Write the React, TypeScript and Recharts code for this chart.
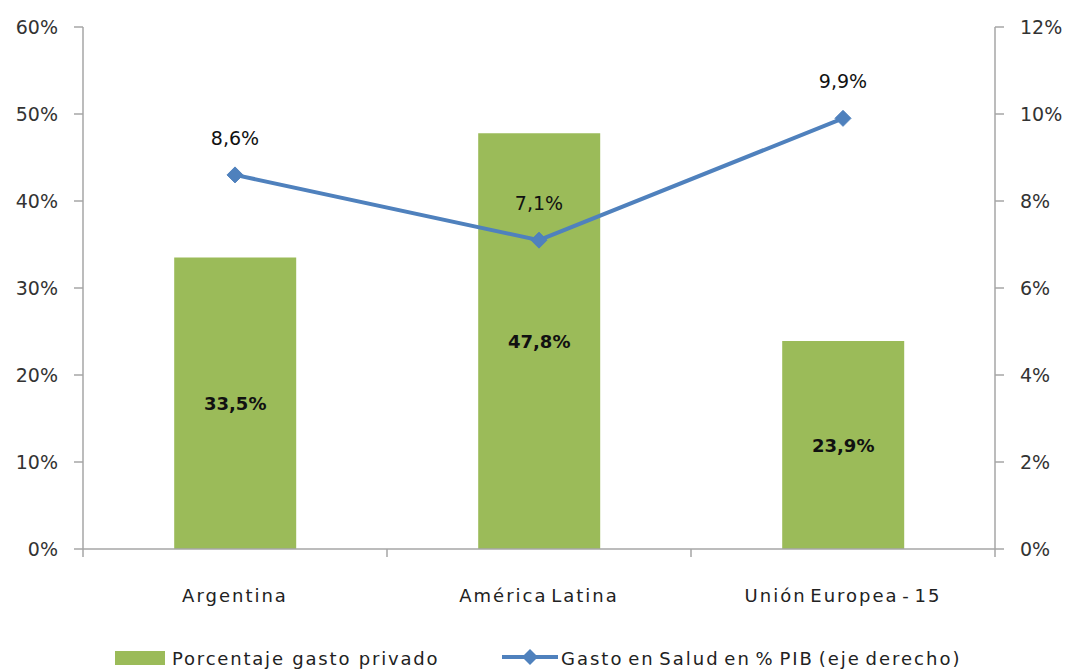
import { ComposedChart, Bar, Line, XAxis, YAxis, LabelList } from "recharts"

// values
const categories = ["Argentina", "América Latina", "Unión Europea - 15"]
const privateShare = [33.5, 47.8, 23.9]
const healthGdp = [8.6, 7.1, 9.9]
const leftTicks = [0, 10, 20, 30, 40, 50, 60]
const rightTicks = [0, 2, 4, 6, 8, 10, 12]

const data = categories.map((name, i) => ({
  name,
  privado: privateShare[i],
  pib: healthGdp[i],
}))

const W = 1069
const H = 671
const LEFT_W = 83
const RIGHT_W = 74
const BAND = (W - LEFT_W - RIGHT_W) / categories.length

const FONT = "'DejaVu Sans', Verdana, sans-serif"
const GREEN = "#9bbb59"
const BLUE = "#4f81bd"
const AXIS = "#a6a6a6"

const pct = (v: number) => v.toFixed(1).replace(".", ",") + "%"

const CategoryTick = (props: any) => {
  const { x, y, payload, index } = props
  return (
    <g>
      <line x1={x - BAND / 2} x2={x - BAND / 2} y1={y - 8} y2={y} stroke={AXIS} strokeWidth={1.5} />
      {index === categories.length - 1 && (
        <line x1={x + BAND / 2} x2={x + BAND / 2} y1={y - 8} y2={y} stroke={AXIS} strokeWidth={1.5} />
      )}
      <text
        x={x}
        y={y + 45}
        textAnchor="middle"
        fontFamily={FONT}
        fontSize={18}
        letterSpacing={2}
        wordSpacing={-4}
        fill="#222"
      >
        {payload.value}
      </text>
    </g>
  )
}

const Diamond = (props: any) => {
  const { cx, cy } = props
  if (cx == null || cy == null) return null
  const r = 8
  return (
    <polygon
      points={`${cx},${cy - r} ${cx + r},${cy} ${cx},${cy + r} ${cx - r},${cy}`}
      fill={BLUE}
      stroke={BLUE}
    />
  )
}

const LineLabel = (props: any) => {
  const { x, y, value } = props
  return (
    <text
      x={x}
      y={y - 37}
      textAnchor="middle"
      dominantBaseline="central"
      fontFamily={FONT}
      fontSize={19}
      fill="#111"
    >
      {pct(value)}
    </text>
  )
}

const BarLabel = (props: any) => {
  const { x, y, width, height, value } = props
  return (
    <text
      x={x + width / 2}
      y={y + height / 2}
      textAnchor="middle"
      dominantBaseline="central"
      fontFamily={FONT}
      fontSize={18}
      fontWeight="bold"
      fill="#111"
    >
      {pct(value)}
    </text>
  )
}

export default function App() {
  const tickStyle = { fontFamily: FONT, fontSize: 19, fill: "#333" }
  return (
    <div style={{ position: "fixed", left: 0, top: 0, width: W, height: H, background: "#fff", overflow: "hidden" }}>
      <ComposedChart
        width={W}
        height={H}
        data={data}
        margin={{ top: 27, right: 0, left: 0, bottom: 62 }}
        barCategoryGap="30%"
      >
        <XAxis
          dataKey="name"
          xAxisId={0}
          height={60}
          tick={<CategoryTick />}
          tickLine={false}
          axisLine={{ stroke: AXIS, strokeWidth: 1.5 }}
          interval={0}
        />
        <YAxis
          yAxisId="left"
          width={LEFT_W}
          domain={[0, 60]}
          ticks={leftTicks}
          tickFormatter={(v: number) => v + "%"}
          tick={tickStyle}
          tickSize={9}
          tickMargin={16}
          tickLine={{ stroke: AXIS, strokeWidth: 1.5 }}
          axisLine={{ stroke: AXIS, strokeWidth: 1.5 }}
        />
        <YAxis
          yAxisId="right"
          orientation="right"
          width={RIGHT_W}
          domain={[0, 12]}
          ticks={rightTicks}
          tickFormatter={(v: number) => v + "%"}
          tick={tickStyle}
          tickSize={9}
          tickMargin={16}
          tickLine={{ stroke: AXIS, strokeWidth: 1.5 }}
          axisLine={{ stroke: AXIS, strokeWidth: 1.5 }}
        />
        <Bar yAxisId="left" dataKey="privado" fill={GREEN} isAnimationActive={false}>
          <LabelList dataKey="privado" content={<BarLabel />} />
        </Bar>
        <Line
          yAxisId="right"
          dataKey="pib"
          stroke={BLUE}
          strokeWidth={4}
          dot={<Diamond />}
          activeDot={false}
          isAnimationActive={false}
        >
          <LabelList dataKey="pib" content={<LineLabel />} />
        </Line>
      </ComposedChart>
      <svg
        width={W}
        height={35}
        style={{ position: "absolute", left: 0, top: 636 }}
        fontFamily={FONT}
        fontSize={18}
      >
        <rect x={115} y={15} width={50} height={14} fill={GREEN} />
        <text x={172} y={29} fill="#222" letterSpacing={1.8}>
          Porcentaje gasto privado
        </text>
        <line x1={502} x2={558} y1={21} y2={21} stroke={BLUE} strokeWidth={4} />
        <polygon points="530,13 538,21 530,29 522,21" fill={BLUE} />
        <text x={561} y={29} fill="#222" letterSpacing={2} wordSpacing={-3}>
          Gasto en Salud en % PIB (eje derecho)
        </text>
      </svg>
    </div>
  )
}
